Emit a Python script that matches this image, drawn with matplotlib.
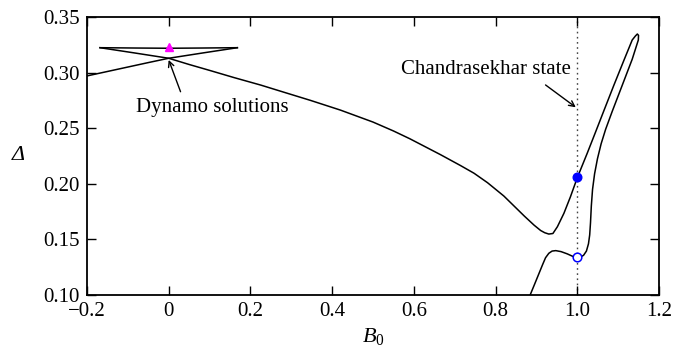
import matplotlib
matplotlib.use("Agg")
import matplotlib.pyplot as plt

plt.rcParams['font.family'] = ['Liberation Serif', 'DejaVu Serif']
plt.rcParams['mathtext.fontset'] = 'custom'
plt.rcParams['mathtext.rm'] = 'Liberation Serif'
plt.rcParams['mathtext.it'] = 'Liberation Serif:italic'

# main branch: from upper-left cusp, down to the minimum, round the loop and back down
main_b0 = [-0.168, -0.084, 0.0, 0.05, 0.10, 0.16, 0.225, 0.285, 0.347, 0.42, 0.50,
           0.55, 0.59, 0.665, 0.714, 0.747, 0.78, 0.82, 0.845, 0.87, 0.894, 0.91,
           0.92, 0.93, 0.94, 0.951, 0.967, 0.983, 1.0, 1.024, 1.044, 1.065, 1.089,
           1.114, 1.134, 1.142, 1.1466, 1.1495, 1.149, 1.134, 1.109, 1.085, 1.069,
           1.058, 1.049, 1.042, 1.037, 1.034, 1.032, 1.030, 1.027, 1.022, 1.015,
           1.008, 1.0, 0.99, 0.975, 0.96, 0.947, 0.938, 0.930, 0.922, 0.915, 0.905,
           0.895, 0.885, 0.878]
main_delta = [0.3224, 0.3177, 0.3129, 0.3073, 0.3020, 0.2955, 0.2888, 0.2820, 0.2750,
              0.2663, 0.2555, 0.2475, 0.2405, 0.2262, 0.2164, 0.2095, 0.2010, 0.1890,
              0.1800, 0.1710, 0.1628, 0.1580, 0.1560, 0.1548, 0.1553, 0.1614, 0.1735,
              0.1884, 0.2058, 0.2275, 0.2462, 0.2660, 0.2885, 0.3113, 0.3293, 0.3330,
              0.3347, 0.3335, 0.3293, 0.3120, 0.2880, 0.2650, 0.2490, 0.2360, 0.2225,
              0.2090, 0.1950, 0.1800, 0.1650, 0.1540, 0.1460, 0.1395, 0.1357, 0.1342,
              0.1339, 0.1345, 0.1370, 0.1390, 0.1399, 0.1395, 0.1375, 0.1335, 0.1275,
              0.1185, 0.1095, 0.1006, 0.0940]

# mirror branch: from upper-right cusp to the left edge
mirror_b0 = [0.168, 0.084, 0.0, -0.05, -0.10, -0.15, -0.2]
mirror_delta = [0.3224, 0.3177, 0.3129, 0.3090, 0.3050, 0.3010, 0.2970]

# upper line joining the two cusps
top_b0 = [-0.168, -0.08, 0.0, 0.08, 0.168]
top_delta = [0.3224, 0.3221, 0.3219, 0.3221, 0.3224]

dynamo_pt = (0.0, 0.3227)
chandra_stable = (1.0, 0.2058)
chandra_unstable = (1.0, 0.1339)

xticks = [-0.2, 0.0, 0.2, 0.4, 0.6, 0.8, 1.0, 1.2]
xticklabels = ['\u22120.2', '0', '0.2', '0.4', '0.6', '0.8', '1.0', '1.2']
yticks = [0.10, 0.15, 0.20, 0.25, 0.30, 0.35]
yticklabels = ['0.10', '0.15', '0.20', '0.25', '0.30', '0.35']

fig = plt.figure(figsize=(6.74, 3.58), dpi=100)
ax = fig.add_axes([0.129, 0.176, 0.849, 0.7765])

ax.axvline(1.0, color='#444444', linestyle=(0, (1.2, 2.5)), linewidth=1.0, zorder=1)

ax.plot(main_b0, main_delta, color='black', linewidth=1.1, zorder=2)
ax.plot(mirror_b0, mirror_delta, color='black', linewidth=1.1, zorder=2)
ax.plot(top_b0, top_delta, color='black', linewidth=1.1, zorder=2)

ax.plot(*dynamo_pt, marker='^', color='#ff00ff', markersize=5.5, linestyle='none', zorder=3)
ax.plot(*chandra_stable, marker='o', color='#0000ff', markersize=6.2, linestyle='none', zorder=3)
ax.plot(*chandra_unstable, marker='o', markerfacecolor='white', markeredgecolor='#0000ff',
        markeredgewidth=1.1, markersize=6.2, linestyle='none', zorder=3)

ax.text(0.106, 0.2648, 'Dynamo solutions', ha='center', va='baseline', fontsize=15)
ax.annotate('', xy=(0.0, 0.3114), xytext=(0.029, 0.2828),
            arrowprops=dict(arrowstyle='->', color='black', lw=1.0, shrinkA=0, shrinkB=0))
ax.text(0.7765, 0.2987, 'Chandrasekhar state', ha='center', va='baseline', fontsize=15)
ax.annotate('', xy=(0.996, 0.2688), xytext=(0.922, 0.2889),
            arrowprops=dict(arrowstyle='->', color='black', lw=1.0, shrinkA=0, shrinkB=0))

ax.set_xlim(-0.2, 1.2)
ax.set_ylim(0.10, 0.35)
ax.set_xticks(xticks)
ax.set_xticklabels(xticklabels)
ax.set_yticks(yticks)
ax.set_yticklabels(yticklabels)
ax.tick_params(direction='in', length=6.5, width=1.0, labelsize=15, pad=5,
               top=True, right=True)
for s in ax.spines.values():
    s.set_linewidth(1.3)

ax.set_xlabel('$B_0$', fontsize=16, labelpad=4)
ax.set_ylabel('\u0394', fontsize=16, fontstyle='italic', rotation=0, labelpad=18, va='center')

fig.savefig('out.png', dpi=100)
